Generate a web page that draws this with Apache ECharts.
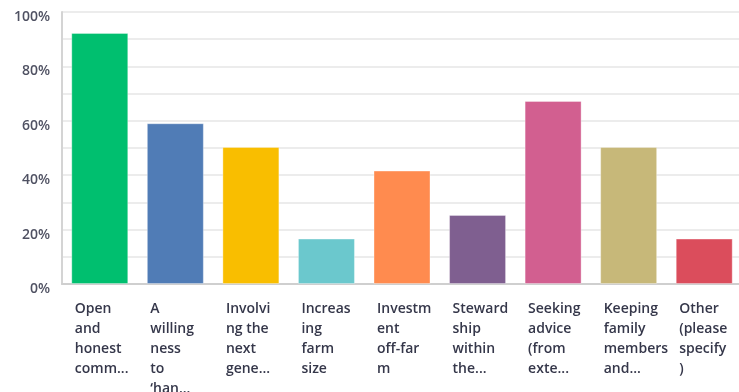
<!DOCTYPE html>
<html>
<head>
<meta charset="utf-8">
<script src="https://cdn.jsdelivr.net/npm/echarts@6/dist/echarts.min.js"></script>
<style>
  html, body { margin: 0; padding: 0; background: #ffffff; }
  #chart { width: 739px; height: 392px; }
</style>
</head>
<body>
<div id="chart"></div>
<script>
// Answer options (wrapped and shortened as shown under each bar)
const categories = [
  'Open\nand\nhonest\ncomm...',
  'A\nwilling\nness\nto\n\u2018han...',
  'Involvi\nng the\nnext\ngene...',
  'Increas\ning\nfarm\nsize',
  'Investm\nent\noff-far\nm',
  'Steward\nship\nwithin\nthe...',
  'Seeking\nadvice\n(from\nexte...',
  'Keeping\nfamily\nmembers\nand...',
  'Other\n(please\nspecify\n)'
];

// Share of respondents choosing each option, percent
const responses = [92.3, 59.1, 50.4, 16.7, 41.7, 25.4, 67.3, 50.4, 16.7];

// One colour per answer option
const barColors = [
  '#00bf6f', '#507cb6', '#f9be00', '#6bc8cd', '#ff8b4f',
  '#7f5f90', '#d25f90', '#c7b879', '#db4d5c'
];

// Value axis: grid every 10 %, labels every 20 %
const yTicks = { min: 0, max: 100, step: 10, labelStep: 20 };

const chart = echarts.init(document.getElementById('chart'), null, { renderer: 'canvas' });

const labelFont = '"Open Sans", "DejaVu Sans", sans-serif';

chart.setOption({
  animation: false,
  backgroundColor: '#ffffff',
  grid: {
    left: 62, right: -3, top: 12, bottom: 108,
    containLabel: false,
    outerBoundsMode: 'none'
  },
  xAxis: {
    type: 'category',
    data: categories,
    axisLine: { show: true, lineStyle: { color: '#cfcfcf', width: 2 } },
    axisTick: { show: false },
    splitLine: { show: false },
    axisLabel: {
      interval: 0,
      align: 'left',
      verticalAlign: 'top',
      margin: 15,
      padding: [0, 0, 0, -25],
      lineHeight: 20,
      fontSize: 14,
      fontWeight: 600,
      fontFamily: labelFont,
      color: '#35374a'
    }
  },
  yAxis: {
    type: 'value',
    min: yTicks.min,
    max: yTicks.max,
    interval: yTicks.step,
    axisLine: { show: true, lineStyle: { color: '#d4d4d4', width: 2 } },
    axisTick: { show: false },
    splitLine: { show: true, lineStyle: { color: '#ececec', width: 2 } },
    axisLabel: {
      margin: 12,
      verticalAlign: 'top',
      lineHeight: 10,
      fontSize: 14,
      fontWeight: 600,
      fontFamily: labelFont,
      color: '#4f5162',
      formatter: function (v) {
        return v % yTicks.labelStep === 0 ? v + '%' : '';
      }
    }
  },
  series: [{
    type: 'bar',
    data: responses.map(function (v, i) {
      return {
        value: v,
        itemStyle: { color: barColors[i], borderColor: 'rgba(255,255,255,0.35)', borderWidth: 1 }
      };
    }),
    barWidth: 57,
    label: { show: false }
  }]
});
</script>
</body>
</html>
